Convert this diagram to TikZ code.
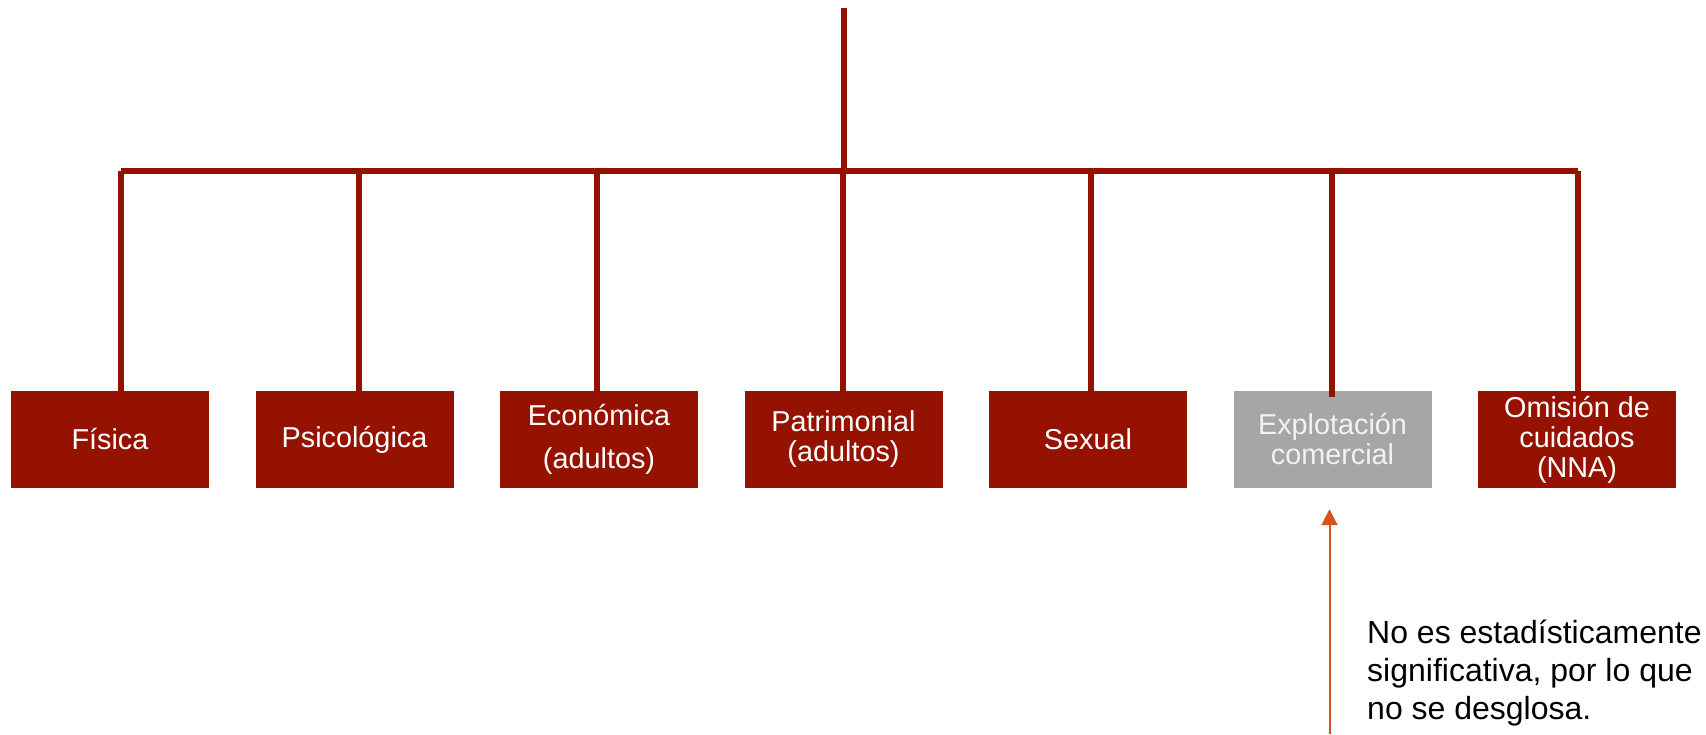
\documentclass[tikz,border=0pt]{standalone}
\usepackage{fontspec}
\setmainfont{Liberation Sans}
\usetikzlibrary{arrows.meta,calc}
\definecolor{vred}{HTML}{961200}
\definecolor{vgray}{HTML}{A6A6A6}
\definecolor{vorange}{HTML}{D9531E}
\tikzset{
  tipo/.style={fill=vred, text=white, minimum width=198pt, minimum height=97pt,
    inner sep=0pt, align=center, font=\fontsize{28.8}{30}\selectfont},
  rama/.style={draw=vred, line width=6pt},
}
\begin{document}
\begin{tikzpicture}[x=1pt,y=-1pt]
    \useasboundingbox (0,0) rectangle (1706,734);

    % tipos de violencia
    \node[tipo] (fisica) at (110,439.5) {Física};
    \node[tipo] (psico) at (354.5,439.5) {Psicológica};
    \node[tipo] (econ) at (599,439.5) {Económica\\[13pt](adultos)};
    \node[tipo] (patri) at (843.5,439.5) {Patrimonial\\(adultos)};
    \node[tipo] (sexual) at (1088,439.5) {Sexual};
    \node[tipo, fill=vgray, text=white!95!black] (explot) at (1332.5,439.5) {Explotación\\comercial};
    \node[tipo] (omision) at (1577,439.5) {Omisión de\\cuidados\\(NNA)};

    % ramas
    \coordinate (raiz) at (844,8);
    \coordinate (nudo) at (844,171);
    \draw[rama] (raiz) -- (nudo);
    \draw[rama] (121,171) -- (1578,171);
    \foreach \n/\x in {fisica/121, psico/359, econ/597, patri/843, sexual/1091, omision/1578}{
        \coordinate (b-\n) at (\x,171);
        \draw[rama] (b-\n) -- (b-\n |- \n.north);
    }
    \coordinate (b-explot) at (1332,171);
    \draw[rama] (b-explot) -- ($(b-explot |- explot.north)+(0,6)$);

    % nota
    \coordinate (pie) at (1329.5,734);
    \draw[vorange, line width=2pt, -{Triangle[width=16pt,length=16pt]}]
        (pie) -- ($(explot.south)+(-3,21)$);
    \node[anchor=base west, align=left, inner sep=0pt,
        font=\fontsize{32}{38}\selectfont] (nota) at (1367,719)
        {No es estadísticamente\\significativa, por lo que\\no se desglosa.};
\end{tikzpicture}
\end{document}
